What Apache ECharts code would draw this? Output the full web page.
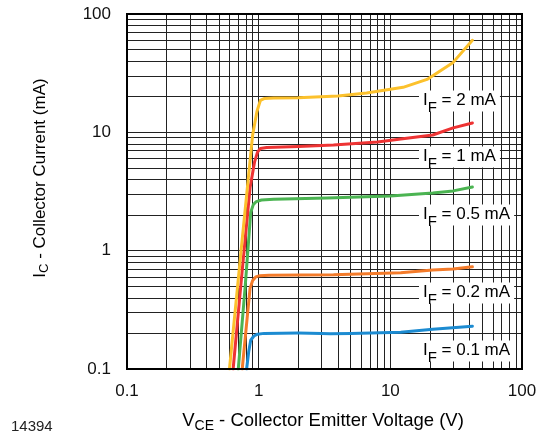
<!DOCTYPE html>
<html>
<head>
<meta charset="utf-8">
<script src="https://cdn.jsdelivr.net/npm/echarts@6/dist/echarts.min.js"></script>
<style>
  html, body { margin: 0; padding: 0; background: #fff; }
  #chart { width: 542px; height: 438px; }
</style>
</head>
<body>
<div id="chart"></div>
<script>
// curve data (V in volts, I in mA)
const v2mA = [0.6, 0.75, 0.9, 0.97, 1.03, 1.1, 1.3, 2, 4, 6.6, 12.5, 19, 30, 42]
const i2mA = [0.1, 1.25, 9.5, 15, 18.6, 19.3, 19.5, 19.6, 20.3, 21.5, 24, 28, 39, 60]

const v1mA = [0.64, 0.75, 0.86, 0.93, 0.98, 1.03, 1.15, 2, 3.7, 8, 12, 21, 30, 42]
const i1mA = [0.1, 0.68, 3.4, 5.6, 6.8, 7.3, 7.45, 7.6, 7.8, 8.3, 8.8, 9.5, 10.9, 12]

const v05mA = [0.7, 0.79, 0.87, 0.91, 0.96, 1.05, 1.3, 3.3, 10, 21, 30, 42]
const i05mA = [0.1, 0.5, 2.1, 2.45, 2.6, 2.68, 2.72, 2.79, 2.9, 3.07, 3.2, 3.45]

const v02mA = [0.75, 0.8, 0.86, 0.9, 0.95, 1.02, 1.2, 3.7, 12, 21, 30, 42]
const i02mA = [0.1, 0.21, 0.48, 0.56, 0.6, 0.615, 0.62, 0.625, 0.65, 0.685, 0.7, 0.73]

const v01mA = [0.81, 0.84, 0.87, 0.92, 0.98, 1.1, 2, 3, 3.5, 5, 12, 21, 42]
const i01mA = [0.1, 0.14, 0.175, 0.19, 0.197, 0.2, 0.201, 0.2, 0.199, 0.2, 0.204, 0.217, 0.23]

const forwardCurrents = ['2', '1', '0.5', '0.2', '0.1']

// log grid minor lines
const minorGrid = [0.2, 0.3, 0.4, 0.5, 0.6, 0.7, 0.8, 0.9,
                   2, 3, 4, 5, 6, 7, 8, 9,
                   20, 30, 40, 50, 60, 70, 80, 90]

const FONT = 'Arial, "Liberation Sans", Helvetica, sans-serif'
const pairs = (v, i) => v.map((x, k) => [x, i[k]])

const curve = (name, v, i, color) => ({
    name: name,
    type: 'line',
    data: pairs(v, i),
    showSymbol: false,
    symbol: 'none',
    smooth: false,
    clip: true,
    z: 5,
    lineStyle: { color: color, width: 3, join: 'round', cap: 'round' }
})

// rich text styles, s* = subscript
const rich = {
    n: { fontSize: 17, fontFamily: FONT, color: '#111', lineHeight: 18, verticalAlign: 'top' },
    s: { fontSize: 15, fontFamily: FONT, color: '#111', lineHeight: 15, padding: [9, 0, 0, 0], verticalAlign: 'top' },
    t: { fontSize: 18.5, fontFamily: FONT, color: '#111', lineHeight: 20 },
    ts: { fontSize: 14, fontFamily: FONT, color: '#111', lineHeight: 14, padding: [10, 0, 0, 0] },
    y: { fontSize: 17, fontFamily: FONT, color: '#111', lineHeight: 18 },
    ys: { fontSize: 13, fontFamily: FONT, color: '#111', lineHeight: 13, padding: [9, 0, 0, 0] }
}

const ifLabel = (val, y) => ({
    type: 'text',
    x: 419,
    y: y,
    z: 100,
    style: {
        text: '{n|I}{s|F}{n| = ' + val + ' mA}',
        rich: rich,
        textAlign: 'left',
        textVerticalAlign: 'middle',
        backgroundColor: '#fff',
        padding: [1, 4, 2, 4]
    }
})

let chart = echarts.init(document.getElementById('chart'))
chart.setOption({
    animation: false,
    backgroundColor: '#fff',
    grid: { left: 127, top: 14, right: 20, bottom: 69, show: true, borderColor: '#000', borderWidth: 2, backgroundColor: 'transparent', z: 10 },
    xAxis: {
        type: 'log', logBase: 10, min: 0.1, max: 100,
        axisLine: { show: false },
        axisTick: { show: false },
        axisLabel: { color: '#111', fontSize: 17, fontFamily: FONT, margin: 14 },
        splitLine: { show: true, lineStyle: { color: '#222', width: 1 } }
    },
    yAxis: {
        type: 'log', logBase: 10, min: 0.1, max: 100,
        axisLine: { show: false },
        axisTick: { show: false },
        axisLabel: { color: '#111', fontSize: 17, fontFamily: FONT, margin: 16 },
        splitLine: { show: true, lineStyle: { color: '#222', width: 1 } }
    },
    series: [
        {
            name: 'grid',
            type: 'line',
            data: [],
            z: 1,
            markLine: {
                silent: true,
                symbol: 'none',
                animation: false,
                label: { show: false },
                lineStyle: { color: '#222', width: 1, type: 'solid' },
                data: minorGrid.map(x => ({ xAxis: x })).concat(minorGrid.map(y => ({ yAxis: y })))
            }
        },
        curve('IF = 0.1 mA', v01mA, i01mA, '#1c8bd1'),
        curve('IF = 0.2 mA', v02mA, i02mA, '#f47b2a'),
        curve('IF = 0.5 mA', v05mA, i05mA, '#4bb452'),
        curve('IF = 1 mA', v1mA, i1mA, '#ee3333'),
        curve('IF = 2 mA', v2mA, i2mA, '#fcc12c')
    ],
    graphic: [
        ifLabel(forwardCurrents[0], 101),
        ifLabel(forwardCurrents[1], 157),
        ifLabel(forwardCurrents[2], 215),
        ifLabel(forwardCurrents[3], 293),
        ifLabel(forwardCurrents[4], 351),
        {
            type: 'text', x: 323, y: 421,
            style: { text: '{t|V}{ts|CE}{t| - Collector Emitter Voltage (V)}', rich: rich, textAlign: 'center', textVerticalAlign: 'middle' }
        },
        {
            type: 'text', x: 40, y: 178, rotation: Math.PI / 2,
            style: { text: '{y|I}{ys|C}{y| - Collector Current (mA)}', rich: rich, textAlign: 'center', textVerticalAlign: 'middle' }
        },
        {
            type: 'text', x: 11, y: 427,
            style: { text: '14394', font: '15px ' + FONT, fill: '#222', textAlign: 'left', textVerticalAlign: 'middle' }
        }
    ]
})
</script>
</body>
</html>
